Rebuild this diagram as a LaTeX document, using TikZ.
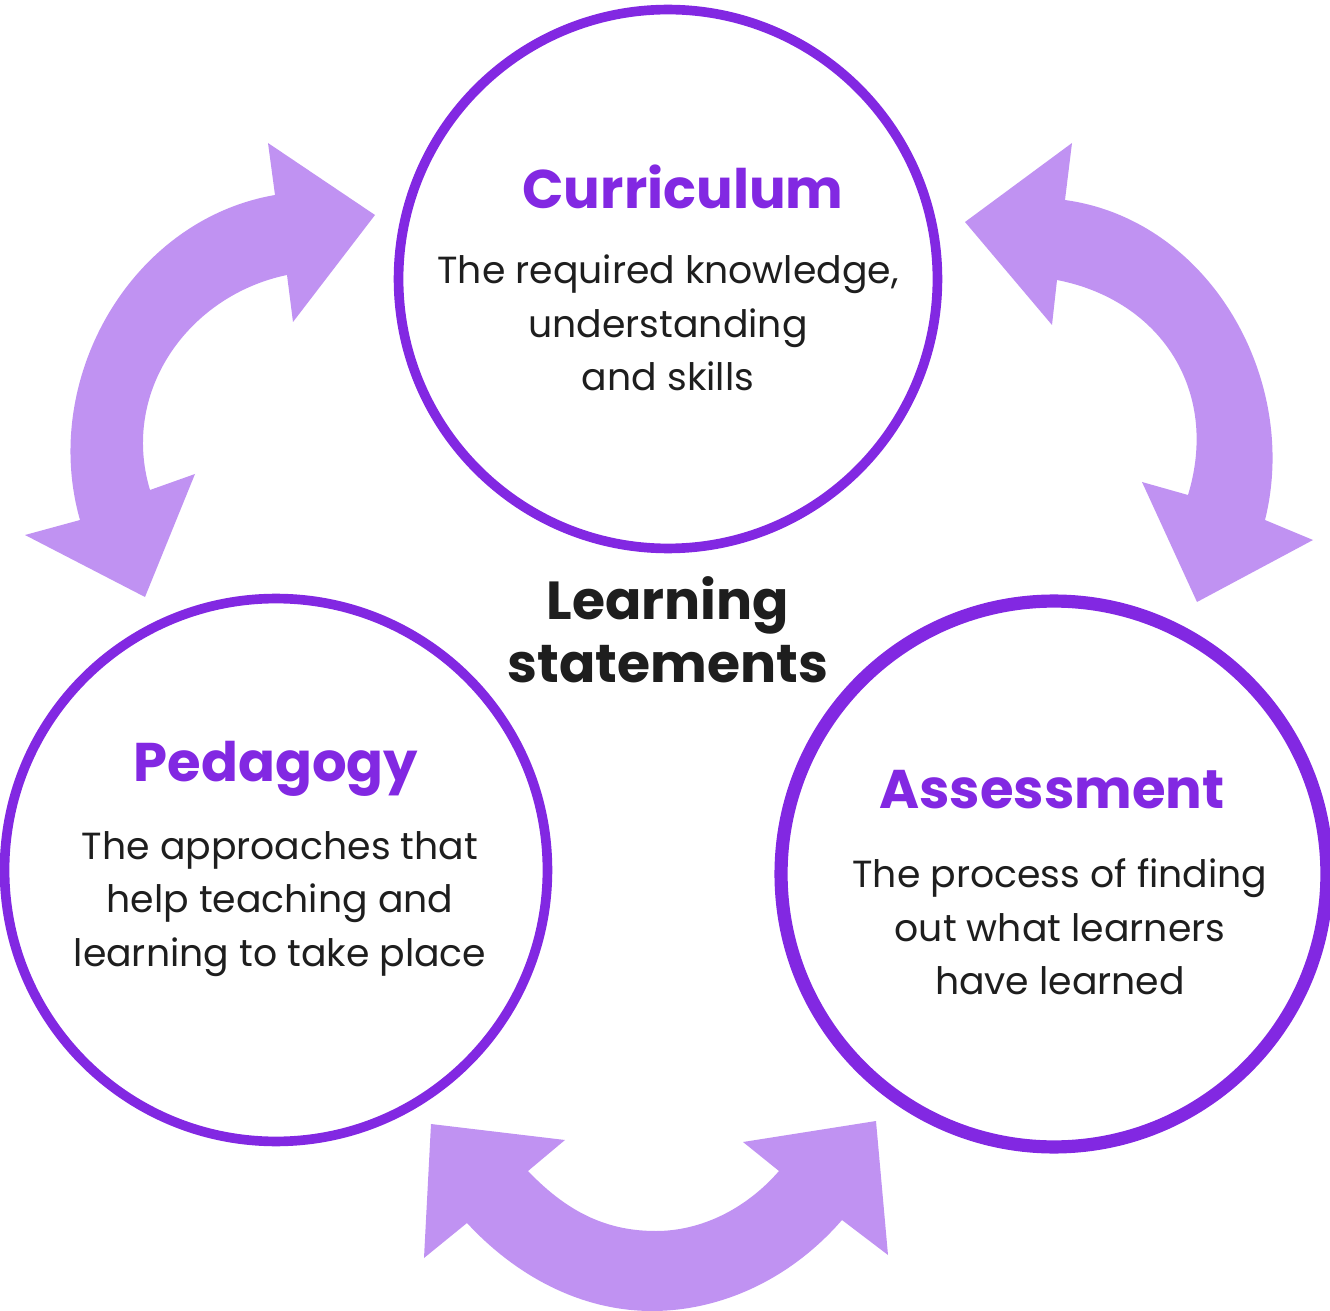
\documentclass[tikz,border=0pt]{standalone}
\usepackage{fontspec}
\setmainfont{Poppins}
\definecolor{ring}{RGB}{130,40,226}
\definecolor{arr}{RGB}{192,146,242}
\definecolor{ink}{RGB}{30,30,30}
\begin{document}
\begin{tikzpicture}[x=0.02cm,y=-0.02cm,
  circ/.style={circle,draw=ring,line width=5.5pt,minimum size=#1,inner sep=0pt},
  ttl/.style={text=ring,font=\fontsize{31}{34}\selectfont\bfseries},
  body/.style={text=ink,align=center,font=\fontsize{21.5}{30.5}\selectfont},
  arrowshape/.style={fill=arr,draw=none}]
\useasboundingbox (0,0) rectangle (1330,1311);
\node[circ=10.78cm] (cur) at (668,279) {};
\node[circ=10.86cm] (ped) at (276,870) {};
\node[circ=10.92cm,line width=7.5pt] (ass) at (1054,874) {};
\node[ttl] (curt) at (683,187) {Curriculum};
\node[body] (curb) at (668,323) {The required knowledge,\\understanding\\and skills};
\node[ttl] (pedt) at (276,769) {Pedagogy};
\node[body] (pedb) at (280,904) {The approaches that\\help teaching and\\learning to take place};
\node[ttl] (asst) at (1052,790) {Assessment};
\node[body] (assb) at (1060,927) {The process of finding\\out what learners\\have learned};
\node[text=ink,align=center,font=\fontsize{30.5}{36}\selectfont\bfseries] (ls) at (668,630) {Learning\\statements};
% left arrow
\fill[arrowshape] (268,143) -- (375,215) -- (293,322) -- (287,275)
  .. controls (190,295) and (120,390) .. (150,490) -- (195,474) -- (145,597) -- (25,535) -- (80,520)
  .. controls (40,380) and (130,220) .. (275,195) -- cycle;
% right arrow
\fill[arrowshape] (1072,143) -- (965,222) -- (1052,325) -- (1057,280)
  .. controls (1160,300) and (1220,390) .. (1188,495) -- (1142,482) -- (1197,602) -- (1313,540) -- (1265,520)
  .. controls (1300,380) and (1210,220) .. (1065,200) -- cycle;
% bottom arrow
\fill[arrowshape] (431,1124) -- (565,1140) -- (528,1171)
  .. controls (570,1215) and (610,1231) .. (656,1231)
  .. controls (700,1231) and (745,1210) .. (779,1171) -- (743,1142) -- (876,1121) -- (888,1255) -- (842,1220)
  .. controls (790,1280) and (720,1311) .. (652,1311)
  .. controls (580,1311) and (515,1275) .. (467,1223) -- (424,1258) -- cycle;
\end{tikzpicture}
\end{document}
